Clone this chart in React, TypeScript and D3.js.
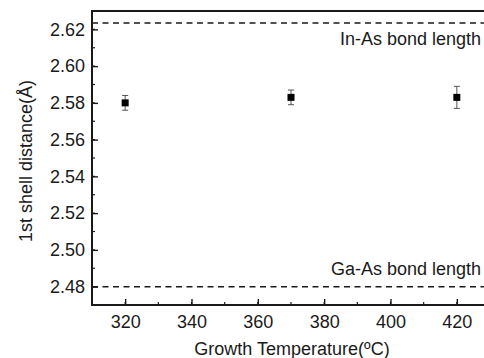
import { useEffect, useRef } from 'react';
import { select, scaleLinear, axisLeft, axisBottom, range } from 'd3';

const temperatures = [320, 370, 420];
const distances = [2.58, 2.583, 2.583];
const errors = [0.004, 0.004, 0.006];
const xTicks = [320, 340, 360, 380, 400, 420];
const yTicks = [2.48, 2.5, 2.52, 2.54, 2.56, 2.58, 2.6, 2.62];
const refLines = [
  { value: 2.6235, label: 'In-As bond length' },
  { value: 2.48, label: 'Ga-As bond length' },
];

const W = 484;
const H = 358;
const margin = { left: 92, top: 11, right: -6, bottom: 53 };
const font = 'Liberation Sans, Arial, sans-serif';
const ink = '#1a1a1a';
const fs = 18;

const App = () => {
  const svgRef = useRef(null);

  useEffect(() => {
    const svg = select(svgRef.current);
    svg.selectAll('*').remove();

    const x = scaleLinear().domain([310, 430]).range([margin.left, W - margin.right]);
    const y = scaleLinear().domain([2.47, 2.63]).range([H - margin.bottom, margin.top]);
    const x0 = margin.left;
    const x1 = W - margin.right;
    const y0 = H - margin.bottom;

    // minor ticks
    const minorY = range(2.47, 2.63, 0.01).filter((v) => v > 2.4705);
    svg
      .append('g')
      .selectAll('line')
      .data(minorY)
      .enter()
      .append('line')
      .attr('x1', x0)
      .attr('x2', x0 + 3)
      .attr('y1', (d) => y(d))
      .attr('y2', (d) => y(d))
      .attr('stroke', ink)
      .attr('stroke-width', 1.2);
    const minorX = range(310, 431, 10);
    svg
      .append('g')
      .selectAll('line')
      .data(minorX)
      .enter()
      .append('line')
      .attr('x1', (d) => x(d))
      .attr('x2', (d) => x(d))
      .attr('y1', y0)
      .attr('y2', y0 - 3)
      .attr('stroke', ink)
      .attr('stroke-width', 1.2);

    const yAxis = axisLeft(y)
      .tickValues(yTicks)
      .tickSizeInner(-6)
      .tickSizeOuter(0)
      .tickPadding(7)
      .tickFormat((v) => (+v).toFixed(2));
    const yg = svg.append('g').attr('transform', `translate(${x0},0)`).call(yAxis);
    yg.select('.domain').remove();
    yg.selectAll('line').attr('stroke', ink).attr('stroke-width', 1.4);
    yg.selectAll('text')
      .attr('font-family', font)
      .attr('font-size', fs)
      .attr('fill', ink);

    const xAxis = axisBottom(x)
      .tickValues(xTicks)
      .tickSizeInner(-6)
      .tickSizeOuter(0)
      .tickPadding(10)
      .tickFormat((v) => `${v}`);
    const xg = svg.append('g').attr('transform', `translate(0,${y0})`).call(xAxis);
    xg.select('.domain').remove();
    xg.selectAll('line').attr('stroke', ink).attr('stroke-width', 1.4);
    xg.selectAll('text')
      .attr('font-family', font)
      .attr('font-size', fs)
      .attr('fill', ink);

    // frame
    svg
      .append('rect')
      .attr('x', x0)
      .attr('y', margin.top)
      .attr('width', x1 - x0)
      .attr('height', y0 - margin.top)
      .attr('fill', 'none')
      .attr('stroke', ink)
      .attr('stroke-width', 2);

    // reference lines
    svg
      .append('g')
      .selectAll('line')
      .data(refLines)
      .enter()
      .append('line')
      .attr('x1', x0)
      .attr('x2', x1)
      .attr('y1', (d) => y(d.value))
      .attr('y2', (d) => y(d.value))
      .attr('stroke', ink)
      .attr('stroke-width', 1.5)
      .attr('stroke-dasharray', '6,4.5');
    svg
      .append('g')
      .selectAll('text')
      .data(refLines)
      .enter()
      .append('text')
      .attr('x', 481)
      .attr('y', (d, i) => (i === 0 ? y(d.value) + 22 : y(d.value) - 12))
      .attr('text-anchor', 'end')
      .attr('font-family', font)
      .attr('font-size', fs)
      .attr('fill', ink)
      .text((d) => d.label);

    // error bars and points
    const pts = temperatures.map((t, i) => ({ t, v: distances[i], e: errors[i] }));
    const g = svg.append('g');
    const eb = g.selectAll('g.pt').data(pts).enter().append('g');
    eb.append('line')
      .attr('x1', (d) => x(d.t))
      .attr('x2', (d) => x(d.t))
      .attr('y1', (d) => y(d.v - d.e))
      .attr('y2', (d) => y(d.v + d.e))
      .attr('stroke', '#555')
      .attr('stroke-width', 1);
    [-1, 1].forEach((s) => {
      eb.append('line')
        .attr('x1', (d) => x(d.t) - 3)
        .attr('x2', (d) => x(d.t) + 3)
        .attr('y1', (d) => y(d.v + s * d.e))
        .attr('y2', (d) => y(d.v + s * d.e))
        .attr('stroke', '#555')
        .attr('stroke-width', 1);
    });
    eb.append('rect')
      .attr('x', (d) => x(d.t) - 3.5)
      .attr('y', (d) => y(d.v) - 3.5)
      .attr('width', 7)
      .attr('height', 7)
      .attr('fill', '#000');

    // axis titles
    svg
      .append('text')
      .attr('x', 292)
      .attr('y', 355)
      .attr('text-anchor', 'middle')
      .attr('font-family', font)
      .attr('font-size', fs)
      .attr('fill', ink)
      .text('Growth Temperature(ºC)');
    svg
      .append('text')
      .attr('transform', 'translate(32,161) rotate(-90)')
      .attr('text-anchor', 'middle')
      .attr('font-family', font)
      .attr('font-size', fs)
      .attr('fill', ink)
      .text('1st shell distance(Å)');
  }, []);

  return (
    <svg
      ref={svgRef}
      width={W}
      height={H}
      style={{ position: 'absolute', left: 0, top: 0, background: '#fff', overflow: 'hidden' }}
    />
  );
};

export default App;
